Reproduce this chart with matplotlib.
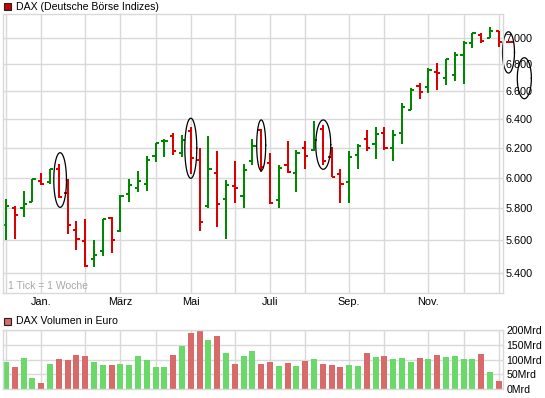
import numpy as np
import matplotlib
matplotlib.use("Agg")
import matplotlib.pyplot as plt
from matplotlib.patches import Rectangle
from matplotlib.ticker import FixedLocator, FuncFormatter, NullLocator

plt.rcParams["font.family"] = ["Liberation Sans", "DejaVu Sans"]

# weekly OHLC of the DAX, one entry per week
opens = [5694, 5804, 5800, 5840, 5978, 5971, 6059, 5900, 5663, 5590,
         5480, 5530, 5737, 5658, 5893, 5933, 5960, 6143, 6246, 6282,
         6163, 6316, 6119, 5811, 6033, 5860, 5942, 5876, 6110, 6323,
         6099, 5853, 6081, 6033, 6200, 6185, 6330, 6135, 6021, 5973,
         6154, 6258, 6227, 6304, 6198, 6304, 6467, 6640, 6635, 6745,
         6702, 6725, 6870, 6966, 7026, 7000, 7057]
highs = [5860, 5811, 5909, 5989, 6029, 6059, 6092, 5989, 5721, 5733,
         5596, 5731, 5746, 5882, 5993, 6042, 6143, 6234, 6263, 6306,
         6287, 6342, 6196, 6280, 6180, 5982, 6114, 6088, 6258, 6328,
         6165, 6081, 6251, 6185, 6251, 6388, 6359, 6208, 6055, 6176,
         6227, 6323, 6342, 6342, 6323, 6514, 6622, 6664, 6770, 6808,
         6845, 6897, 6982, 7044, 7039, 7091, 7057]
lows = [5600, 5604, 5742, 5840, 5949, 5960, 5867, 5637, 5540, 5436,
        5436, 5502, 5520, 5648, 5838, 5904, 5911, 6103, 6136, 6154,
        6136, 6026, 5654, 5804, 5683, 5604, 5831, 5798, 6081, 6037,
        5827, 5804, 6033, 5904, 6059, 6180, 6086, 6002, 5833, 5831,
        6059, 6180, 6121, 6185, 6110, 6227, 6467, 6545, 6590, 6610,
        6645, 6680, 6655, 6922, 6961, 7000, 6935]
closes = [5816, 5758, 5827, 5987, 5960, 6057, 5871, 5694, 5606, 5440,
          5504, 5729, 5600, 5880, 5949, 5978, 6119, 6231, 6251, 6180,
          6255, 6132, 5712, 6059, 5827, 5949, 5933, 6047, 6212, 6070,
          5833, 6066, 6037, 6165, 6147, 6255, 6108, 6006, 5955, 6136,
          6214, 6202, 6299, 6202, 6292, 6490, 6610, 6598, 6755, 6735,
          6840, 6870, 6966, 7039, 6979, 7057, 6970]

# weekly turnover in billion euro
volumes = [91, 75, 105, 37, 20, 85, 102, 98, 115, 112,
           91, 81, 81, 85, 81, 112, 98, 75, 75, 115,
           146, 190, 200, 166, 180, 122, 85, 112, 129, 85,
           91, 78, 88, 78, 95, 102, 85, 81, 75, 81,
           78, 122, 108, 112, 102, 105, 91, 105, 102, 115,
           108, 112, 102, 102, 119, 58, 27]

# first week of each month (grid lines) and the labelled months
month_weeks = [0, 4, 9, 13, 17, 21, 26, 30, 34, 39, 43, 48, 52, 56]
month_names = ["", "Jan.", "", "März", "", "Mai", "", "Juli", "",
               "Sep.", "", "Nov.", "", ""]

price_ticks = [5400, 5600, 5800, 6000, 6200, 6400, 6600, 6800, 7000]
volume_ticks = [0, 50, 100, 150, 200]

# highlighted weeks: centre week, half width in weeks, low, high
marks = [(6.15, 0.72, 5805, 6167),
         (21.0, 0.68, 5995, 6407),
         (29.0, 0.51, 6046, 6395),
         (36.05, 0.85, 6055, 6395),
         (57.1, 0.68, 6736, 7051),
         (58.9, 0.80, 6547, 6851)]

GREEN = "#008800"
RED = "#dd0000"
VGREEN = "#6ad96a"
VRED = "#d96a6a"
GRID = "#d9d9d9"

W, H = 545, 398
fig = plt.figure(figsize=(W / 100, H / 100), dpi=100)


def px_axes(left, top, right, bottom):
    return fig.add_axes([left / W, 1 - bottom / H,
                         (right - left) / W, (bottom - top) / H])


def style_axes(a):
    a.set_axisbelow(True)
    for s in a.spines.values():
        s.set_color(GRID)
        s.set_linewidth(1)
    a.xaxis.set_major_locator(FixedLocator(month_weeks))
    a.grid(True, color=GRID, linewidth=1)
    a.yaxis.tick_right()
    a.tick_params(length=0, labelsize=7.8, colors="black")
    a.set_xlim(-0.375, 56.51)


ax = px_axes(2.7, 13.5, 503.3, 293.3)
axv = px_axes(2.7, 330, 503.3, 389)

# price panel
ax.set_yscale("log")
style_axes(ax)
ax.set_ylim(5278, 7195)
ax.yaxis.set_major_locator(FixedLocator(price_ticks))
ax.yaxis.set_minor_locator(NullLocator())
ax.yaxis.set_major_formatter(
    FuncFormatter(lambda v, _: f"{v:,.0f}".replace(",", ".")))
ax.set_xticklabels(month_names)
ax.tick_params(axis="y", pad=1.8)
ax.tick_params(axis="x", pad=2.6)

x = np.arange(len(opens))
colors = [GREEN if c >= o else RED for o, c in zip(opens, closes)]
ax.vlines(x, lows, highs, colors=colors, linewidth=1.2, antialiased=False)
ax.hlines(opens, x - 0.36, x, colors=colors, linewidth=1.2,
          antialiased=False)
ax.hlines(closes, x, x + 0.36, colors=colors, linewidth=1.2,
          antialiased=False)

# last price marker on the axis
ax.plot([56.9, 57.55], [closes[-1], closes[-1]], color=RED,
        linewidth=1.2, clip_on=False, antialiased=False)

t = np.linspace(0, 2 * np.pi, 120)
for cx, hw, lo, hi in marks:
    mid = (np.log(lo) + np.log(hi)) / 2
    half = (np.log(hi) - np.log(lo)) / 2
    ax.plot(cx + hw * np.cos(t), np.exp(mid + half * np.sin(t)),
            color="black", linewidth=0.9, clip_on=False)

ax.text(0.011, 0.008, "1 Tick = 1 Woche", transform=ax.transAxes,
        fontsize=7.5, color="#a8a8a8", va="bottom", ha="left")

# volume panel
style_axes(axv)
axv.set_ylim(0, 200)
axv.yaxis.set_major_locator(FixedLocator(volume_ticks))
axv.yaxis.set_major_formatter(FuncFormatter(lambda v, _: f"{v:.0f}Mrd"))
axv.set_xticklabels([])
axv.tick_params(axis="y", pad=2.2, labelsize=7.6)
vcolors = [VGREEN if c >= o else VRED for o, c in zip(opens, closes)]
axv.bar(x, volumes, width=0.68, color=vcolors, linewidth=0)

# panel captions
fig.patches.append(Rectangle((4 / W, 1 - 9.5 / H), 6.5 / W, 6.5 / H,
                             transform=fig.transFigure, facecolor="#cc0000",
                             edgecolor="#222222", linewidth=0.8))
fig.text(16 / W, 1 - 6.5 / H, "DAX (Deutsche Börse Indizes)",
         fontsize=7.6, va="center", ha="left")
fig.patches.append(Rectangle((4 / W, 1 - 324.5 / H), 6.5 / W, 6.5 / H,
                             transform=fig.transFigure, facecolor=VRED,
                             edgecolor="#222222", linewidth=0.8))
fig.text(16 / W, 1 - 321.3 / H, "DAX Volumen in Euro",
         fontsize=7.6, va="center", ha="left")

fig.savefig("out.png", dpi=100)
